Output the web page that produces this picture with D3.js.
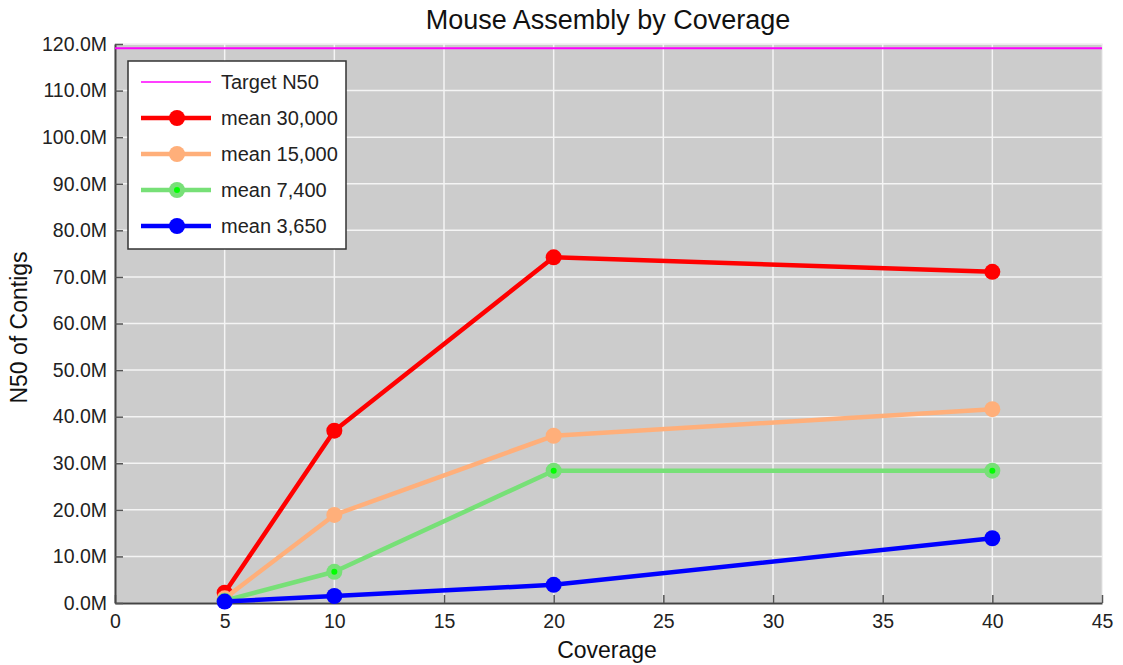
<!DOCTYPE html>
<html><head><meta charset="utf-8">
<script src="https://cdn.jsdelivr.net/npm/d3@7"></script>
<style>body{margin:0;background:#fff}svg{display:block;font-family:"Liberation Sans",Arial,sans-serif}</style>
</head><body>
<svg id="c" width="1123" height="665"></svg>
<script>
const coverage = [5, 10, 20, 40];
const mean30000 = [2.2e6, 37.0e6, 74.2e6, 71.1e6];
const mean15000 = [1.0e6, 18.9e6, 35.9e6, 41.6e6];
const mean7400 = [0.5e6, 6.7e6, 28.4e6, 28.4e6];
const mean3650 = [0.3e6, 1.5e6, 3.9e6, 13.9e6];
const targetN50 = 119.1e6;
const xTicks = [0, 5, 10, 15, 20, 25, 30, 35, 40, 45];
const yTicks = d3.range(0, 121e6, 10e6);
const seriesNames = ["mean 30,000", "mean 15,000", "mean 7,400", "mean 3,650"];
const seriesValues = [mean30000, mean15000, mean7400, mean3650];
const seriesColors = ["#ff0000", "#ffaf7a", "#77e077", "#0000ff"];
const markerInner = [null, null, "#00ff00", null];

const svg = d3.select("#c");
const L = 115, R = 1102, T = 44, B = 603;
const x = d3.scaleLinear().domain([0, 45]).range([L, R]);
const y = d3.scaleLinear().domain([0, 120e6]).range([B, T]);

svg.append("rect").attr("x", L).attr("y", T).attr("width", R - L).attr("height", B - T)
  .attr("fill", "#cccccc").attr("stroke", "#e4e4e4").attr("stroke-width", 1);

// grid
svg.append("g").selectAll("line").data(xTicks.slice(1, -1)).join("line")
  .attr("x1", d => x(d)).attr("x2", d => x(d)).attr("y1", T).attr("y2", B)
  .attr("stroke", "#f4f4f4").attr("stroke-width", 1.5);
svg.append("g").selectAll("line").data(yTicks.slice(1)).join("line")
  .attr("x1", L).attr("x2", R).attr("y1", d => y(d)).attr("y2", d => y(d))
  .attr("stroke", "#f4f4f4").attr("stroke-width", 1.5);

// axes
const fmt = d => (d / 1e6).toFixed(1) + "M";
const xAxis = svg.append("g").attr("transform", `translate(0,${B})`)
  .call(d3.axisBottom(x).tickValues(xTicks).tickSizeInner(-8).tickSizeOuter(0).tickPadding(11));
const yAxis = svg.append("g").attr("transform", `translate(${L},0)`)
  .call(d3.axisLeft(y).tickValues(yTicks).tickFormat(fmt).tickSizeInner(-8).tickSizeOuter(0).tickPadding(8));
[xAxis, yAxis].forEach(a => {
  a.select(".domain").attr("stroke", "#444").attr("stroke-width", 2);
  a.selectAll(".tick line").attr("stroke", "#555").attr("stroke-width", 1.5);
  a.selectAll("text").attr("font-size", 19.5).attr("fill", "#222").attr("font-family", '"Liberation Sans",Arial,sans-serif');
});
xAxis.selectAll("text").attr("dy", "0.71em");

// target line
svg.append("line").attr("x1", L).attr("x2", R).attr("y1", y(targetN50)).attr("y2", y(targetN50))
  .attr("stroke", "#ff00ff").attr("stroke-width", 2);

// series (drawn in legend order, later ones on top)
const line = d3.line().x(d => x(d[0])).y(d => y(d[1]));
for (let i = 0; i < seriesValues.length; i++) {
  const pts = coverage.map((c, j) => [c, seriesValues[i][j]]);
  svg.append("path").datum(pts).attr("d", line).attr("fill", "none")
    .attr("stroke", seriesColors[i]).attr("stroke-width", 4.5).attr("stroke-linejoin", "round");
  svg.append("g").selectAll("circle").data(pts).join("circle")
    .attr("cx", d => x(d[0])).attr("cy", d => y(d[1])).attr("r", 8).attr("fill", seriesColors[i]);
  if (markerInner[i]) {
    svg.append("g").selectAll("circle").data(pts).join("circle")
      .attr("cx", d => x(d[0])).attr("cy", d => y(d[1])).attr("r", 3).attr("fill", markerInner[i]);
  }
}

// legend
const lg = svg.append("g");
lg.append("rect").attr("x", 128).attr("y", 61).attr("width", 218).attr("height", 188)
  .attr("fill", "#fff").attr("stroke", "#333").attr("stroke-width", 1.5);
const rowY = [82, 118, 154, 190, 226];
const legendItems = [{name: "Target N50", color: "#ff00ff", w: 1.5, marker: false, inner: null}]
  .concat(seriesNames.map((n, i) => ({name: n, color: seriesColors[i], w: 4.5, marker: true, inner: markerInner[i]})));
legendItems.forEach((it, i) => {
  const g = lg.append("g").attr("transform", `translate(0,${rowY[i]})`);
  g.append("line").attr("x1", 141).attr("x2", 211).attr("y1", 0).attr("y2", 0)
    .attr("stroke", it.color).attr("stroke-width", it.w);
  if (it.marker) g.append("circle").attr("cx", 177).attr("cy", 0).attr("r", 8).attr("fill", it.color);
  if (it.inner) g.append("circle").attr("cx", 177).attr("cy", 0).attr("r", 3).attr("fill", it.inner);
  g.append("text").attr("x", 221).attr("y", 0).attr("dy", "0.36em").attr("font-size", 20)
    .attr("fill", "#222").text(it.name);
});

// titles
svg.append("text").attr("x", 608).attr("y", 29).attr("text-anchor", "middle")
  .attr("font-size", 27).attr("fill", "#111").text("Mouse Assembly by Coverage");
svg.append("text").attr("x", 607).attr("y", 658).attr("text-anchor", "middle")
  .attr("font-size", 23).attr("fill", "#111").text("Coverage");
svg.append("text").attr("transform", `translate(27,${(T + B) / 2 + 4}) rotate(-90)`).attr("text-anchor", "middle")
  .attr("font-size", 23).attr("fill", "#111").text("N50 of Contigs");
</script>
</body></html>
